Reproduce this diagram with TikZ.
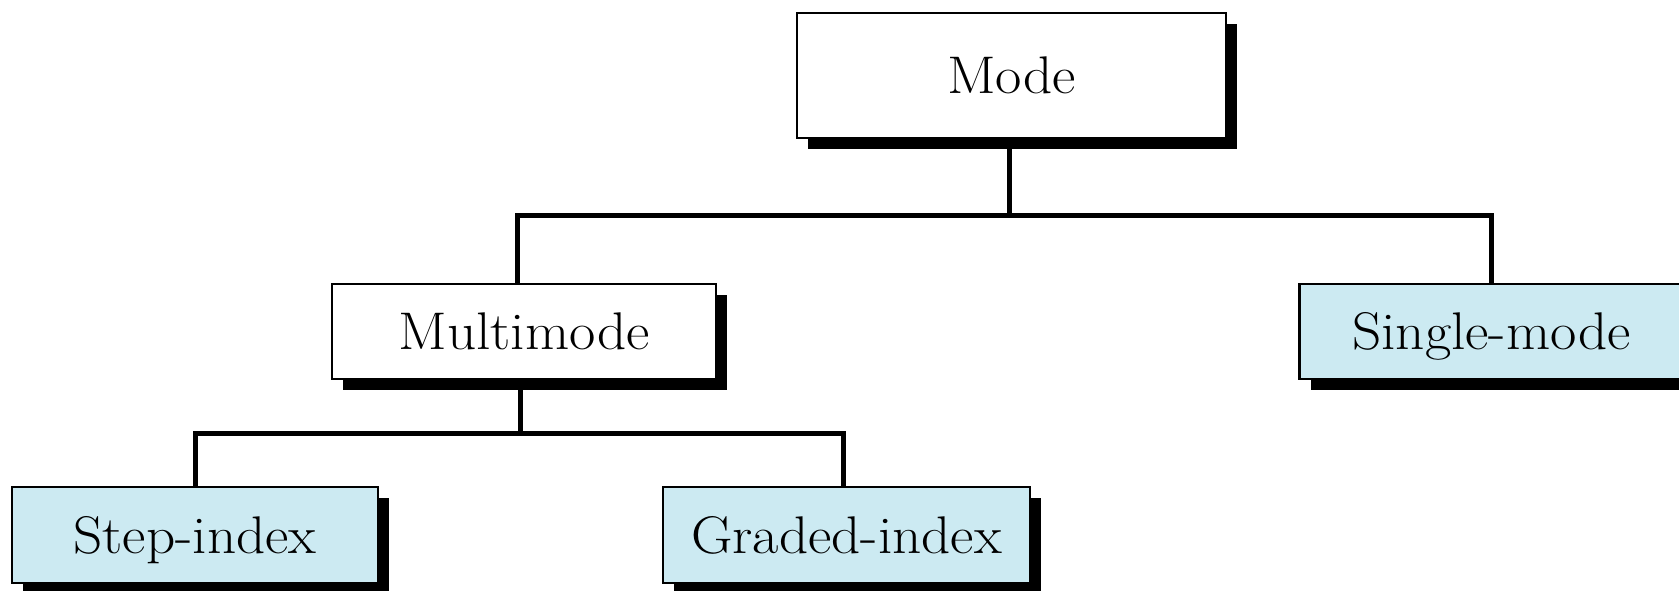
\documentclass[tikz,border=0pt]{standalone}
\usepackage{fontspec}
\setmainfont{Latin Modern Roman}[FakeStretch=1.08]
\usetikzlibrary{shadows}
\definecolor{leafblue}{RGB}{204,234,242}
\tikzset{
  box/.style={draw=black, line width=1.3pt, fill=white, inner sep=0pt,
    font=\fontsize{26.5}{32}\selectfont, text height=18.1pt, text depth=0pt,
    drop shadow={shadow xshift=5.5pt, shadow yshift=-5.5pt, fill=black, opacity=1}},
  leaf/.style={box, fill=leafblue},
  conn/.style={line width=2.5pt, line join=miter},
}
\begin{document}
\begin{tikzpicture}[x=0.5pt,y=-0.5pt]
\useasboundingbox (0,0) rectangle (1679,590);
\clip (0,0) rectangle (1679,590);

% boxes
\node[box, minimum width=214.5pt, minimum height=62.5pt] (mode) at (1011.5,75.5) {Mode};
\node[box, minimum width=192pt, minimum height=47.5pt] (multi) at (524,331.5) {Multimode};
\node[leaf, minimum width=192pt, minimum height=47.5pt] (single) at (1491.5,331.5) {Single-mode};
\node[leaf, minimum width=183pt, minimum height=48pt] (step) at (195,535) {Step-index};
\node[leaf, minimum width=183.5pt, minimum height=48pt] (graded) at (846.5,535) {Graded-index};

% bus levels and branch points
\coordinate (bus1) at (0,215);
\coordinate (bus2) at (0,433.5);
\coordinate (modeout) at ([xshift=-1pt]mode.south);
\coordinate (multiin) at ([xshift=-3.25pt]multi.north);
\coordinate (multiout) at ([xshift=-2pt]multi.south);
\coordinate (gradedin) at ([xshift=-1.5pt]graded.north);

% connectors
\draw[conn] (modeout) -- (modeout |- bus1);
\draw[conn] (multiin) |- (single.north |- bus1) -- (single.north);
\draw[conn] (multiout) -- (multiout |- bus2);
\draw[conn] (step.north) |- (gradedin |- bus2) -- (gradedin);
\end{tikzpicture}
\end{document}
